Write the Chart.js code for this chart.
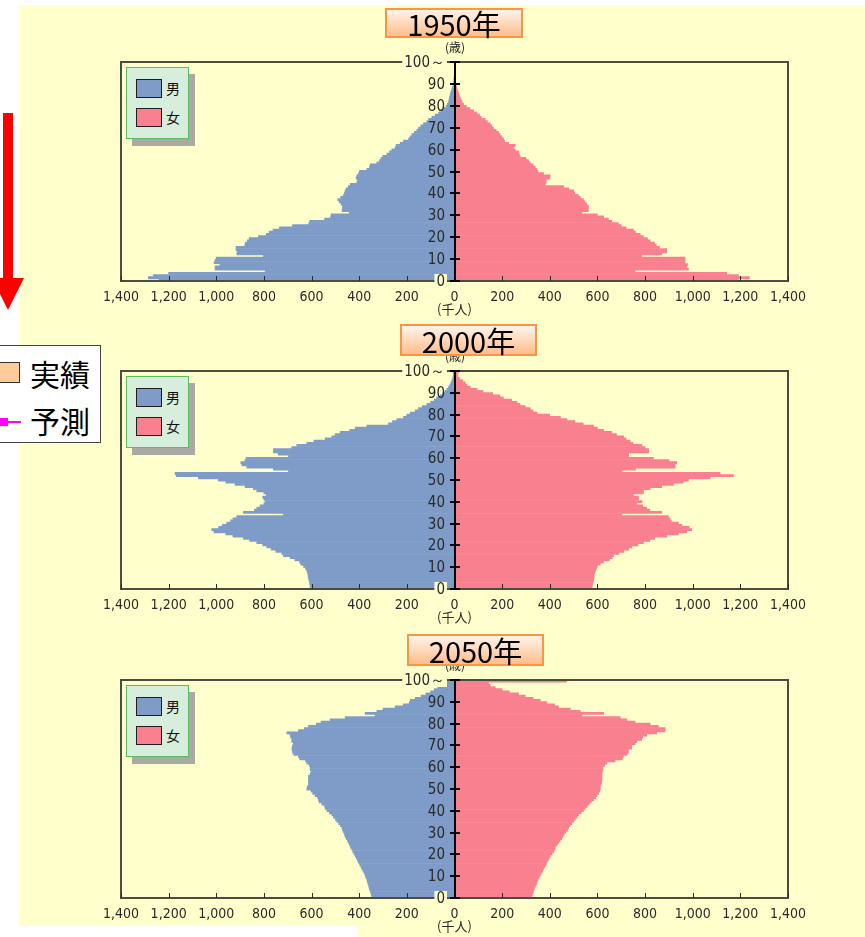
<!DOCTYPE html>
<html lang="ja">
<head>
<meta charset="utf-8">
<title>人口ピラミッド 1950年・2000年・2050年</title>
<script src="https://cdn.jsdelivr.net/npm/chart.js@4.4.1/dist/chart.umd.min.js"></script>
<style>
  html, body { margin: 0; padding: 0; background: #fff; }
  body { position: relative; width: 865px; height: 937px; overflow: hidden;
         font-family: "DejaVu Sans Condensed", "DejaVu Sans", sans-serif; }
  #paper { position: absolute; left: 19px; top: 5px; width: 846px; height: 932px; background: #FFFFCC; }
  #paperCut { position: absolute; left: 19px; top: 926px; width: 338px; height: 11px; background: #fff; }
  canvas.pyr { position: absolute; left: 19px; }
  .year { position: absolute; box-sizing: border-box; border: 2px solid #F79646;
          background: linear-gradient(to bottom, #FFF3EA 0%, #FFD6B6 55%, #FFBD8B 100%);
          font-family: "Noto Sans CJK JP", sans-serif; font-size: 29px; color: #000;
          display: flex; align-items: center; justify-content: center; z-index: 5; }
  .unit { position: absolute; width: 40px; margin-left: -20px; text-align: center;
          font-family: "Noto Sans CJK JP", sans-serif; font-size: 12px; line-height: 14px; color: #222; }
  .sexShadow { position: absolute; width: 63px; height: 72px; background: #A9AAA1; }
  .sexBox { position: absolute; box-sizing: border-box; width: 63px; height: 72px;
            background: #D8EEDD; border: 1px solid #5DBB63; }
  .sw { position: absolute; box-sizing: border-box; width: 26px; height: 19px; border: 1px solid #1e1e1e; }
  .swTxt { position: absolute; font-family: "Noto Sans CJK JP", sans-serif; font-size: 14px;
           line-height: 16px; color: #111; }
  #kind { position: absolute; left: -2px; top: 345px; width: 103px; height: 98px; box-sizing: border-box;
          background: #fff; border: 1px solid #444; z-index: 6; }
  #kindSw { position: absolute; left: -2px; top: 362px; width: 22px; height: 21px; box-sizing: border-box;
            background: #FFCC99; border: 1px solid #333; z-index: 7; }
  #kindLine { position: absolute; left: 0; top: 421px; width: 21px; height: 2px; background: #FF00FF; z-index: 7; }
  #kindMark { position: absolute; left: 0; top: 418px; width: 8px; height: 8px; background: #FF00FF; z-index: 7; }
  .kindTxt { position: absolute; left: 30px; font-family: "Noto Sans CJK JP", sans-serif; font-size: 30px;
             line-height: 34px; color: #000; z-index: 7; }
  #arrow { position: absolute; left: 0; top: 0; z-index: 4; }
</style>
</head>
<body>
<div id="paper"></div>
<div id="paperCut"></div>
<svg id="arrow" width="30" height="320">
  <rect x="3" y="113" width="10" height="166" fill="#FF0000"/>
  <polygon points="-8,278 24,278 8,310" fill="#FF0000"/>
</svg>
<div id="kind"></div>
<div id="kindSw"></div>
<div class="kindTxt" style="top:356px">実績</div>
<div id="kindLine"></div>
<div id="kindMark"></div>
<div class="kindTxt" style="top:403px">予測</div>

<script>
// ---- categories and tick labels ----
const ages = [];
for (let a = 0; a <= 100; a++) ages.push(String(a));
const sexes = ['男', '女'];
const years = ['1950年', '2000年', '2050年'];
const ageTickValues = [0, 10, 20, 30, 40, 50, 60, 70, 80, 90, 100];
const ageTickLabels = ['0', '10', '20', '30', '40', '50', '60', '70', '80', '90', '100～'];
const valueMax = 1400;   // thousand persons
const valueStep = 200;

// ---- population by single year of age (thousand persons), age 0 .. 100+ ----
const male1950 = [
  1240, 1285, 1264, 1200, 795, 1005, 1005, 985, 1009, 1005,
  1000, 802, 914, 912, 917, 917, 880, 878, 870, 862,
  823, 790, 778, 762, 735, 680, 612, 608, 545, 520,
  518, 442, 472, 470, 470, 476, 484, 490, 478, 466,
  462, 459, 455, 446, 438, 410, 407, 413, 410, 403,
  399, 368, 357, 354, 326, 315, 309, 301, 284, 273,
  263, 249, 245, 228, 214, 193, 186, 179, 169, 158,
  151, 141, 130, 116, 109, 95, 81, 67, 56, 46,
  35, 30, 25, 23, 21, 19, 17, 14, 11, 8,
  5, 4, 3, 2, 1, 1, 0, 0, 0, 0, 0
];
const female1950 = [
  1190, 1238, 1192, 1143, 758, 982, 975, 978, 968, 968,
  968, 786, 870, 891, 891, 860, 847, 840, 821, 810,
  793, 780, 760, 751, 720, 700, 688, 660, 646, 626,
  600, 535, 562, 562, 562, 555, 548, 541, 528, 520,
  505, 500, 480, 458, 381, 385, 385, 400, 402, 374,
  350, 346, 339, 330, 318, 311, 300, 276, 272, 269,
  255, 248, 255, 227, 210, 206, 199, 192, 185, 175,
  164, 157, 150, 138, 129, 112, 105, 94, 80, 65,
  50, 38, 32, 28, 24, 20, 17, 14, 11, 9,
  7, 5, 4, 3, 2, 1, 1, 0, 0, 0, 0
];
const male2000 = [
  606, 606, 608, 609, 612, 614, 615, 617, 620, 625,
  634, 645, 650, 670, 690, 718, 725, 750, 770, 788,
  805, 830, 860, 886, 930, 960, 1010, 1019, 990, 975,
  956, 940, 930, 914, 718, 886, 840, 830, 816, 800,
  795, 800, 805, 790, 800, 830, 844, 879, 921, 960,
  991, 1075, 1168, 1173, 697, 760, 872, 892, 897, 880,
  875, 697, 740, 760, 760, 683, 662, 620, 590, 543,
  515, 501, 480, 440, 417, 368, 277, 260, 242, 214,
  200, 186, 165, 151, 135, 116, 100, 85, 75, 60,
  50, 40, 32, 25, 20, 15, 11, 8, 6, 4, 6
];
const female2000 = [
  577, 578, 580, 583, 584, 586, 586, 589, 592, 596,
  600, 612, 625, 650, 662, 668, 690, 710, 731, 744,
  770, 793, 820, 840, 891, 940, 975, 996, 985, 955,
  940, 910, 905, 898, 702, 870, 820, 807, 790, 765,
  787, 772, 772, 751, 793, 793, 821, 870, 919, 960,
  982, 1073, 1171, 1115, 702, 760, 926, 926, 933, 900,
  835, 731, 731, 815, 815, 800, 787, 749, 737, 720,
  710, 680, 660, 626, 600, 584, 540, 505, 472, 445,
  400, 346, 330, 318, 297, 275, 262, 240, 205, 190,
  160, 120, 95, 66, 52, 45, 35, 22, 15, 12, 17
];
const male2050 = [
  347, 349, 352, 355, 358, 360, 363, 366, 368, 372,
  375, 379, 384, 389, 393, 398, 403, 407, 412, 417,
  422, 427, 431, 436, 440, 445, 449, 454, 459, 462,
  466, 470, 473, 479, 486, 494, 500, 508, 515, 525,
  535, 543, 545, 557, 568, 571, 575, 585, 595, 602,
  620, 618, 613, 613, 613, 613, 613, 606, 602, 606,
  606, 610, 620, 625, 650, 655, 675, 680, 682, 682,
  680, 676, 683, 683, 688, 690, 704, 655, 630, 613,
  580, 560, 522, 459, 333, 375, 326, 300, 249, 215,
  190, 186, 165, 140, 120, 100, 85, 70, 55, 40, 46
];
const female2050 = [
  325, 327, 330, 333, 336, 340, 344, 347, 350, 355,
  360, 365, 370, 374, 379, 385, 388, 393, 398, 402,
  410, 416, 421, 423, 430, 437, 444, 450, 455, 460,
  468, 475, 479, 485, 492, 500, 507, 515, 521, 532,
  541, 549, 557, 566, 574, 584, 592, 598, 605, 609,
  612, 612, 615, 617, 619, 619, 619, 619, 621, 623,
  623, 630, 640, 674, 705, 709, 724, 730, 730, 744,
  744, 758, 765, 786, 790, 807, 849, 884, 884, 856,
  821, 758, 724, 696, 535, 626, 528, 486, 437, 420,
  388, 360, 330, 297, 269, 230, 200, 171, 150, 143, 470
];

// ---- look ----
const BLUE = '#7F9CC9';
const PINK = '#F9808F';
const PAPER = '#FFFFCC';
const FRAME = '#4C4C40';
const INK = '#2a2a2a';
const AGE_FONT = '15px "DejaVu Sans Condensed", "DejaVu Sans", sans-serif';

// ---- page layout of the three panels ----
const CANVAS_W = 846;
const PAD_TOP = 10, PAD_LEFT = 102, PAD_RIGHT = 77, AXIS_H = 40;
const panels = [
  { title: years[0], male: male1950, female: female1950, top: 62,  bottom: 281, box: [385, 8, 138, 30] },
  { title: years[1], male: male2000, female: female2000, top: 371, bottom: 589, box: [400, 324, 137, 32] },
  { title: years[2], male: male2050, female: female2050, top: 680, bottom: 898, box: [407, 634, 137, 32] }
];

// frame, inward value ticks, centre age axis with its ticks and labels
const pyramidAxes = {
  id: 'pyramidAxes',
  afterDatasetsDraw(chart) {
    const { ctx, chartArea: a } = chart;
    const xs = chart.scales.x;
    const ys = chart.scales.y;
    // the age axis spans the whole category scale: 0 at one end, 100 at the other
    const e0 = ys.getPixelForDecimal(0), e1 = ys.getPixelForDecimal(1);
    const yBottom = Math.max(e0, e1), yTop = Math.min(e0, e1);
    const agePixel = t => yBottom - (yBottom - yTop) * t / 100;
    const seg = (x1, y1, x2, y2) => { ctx.beginPath(); ctx.moveTo(x1, y1); ctx.lineTo(x2, y2); ctx.stroke(); };
    ctx.save();
    ctx.strokeStyle = FRAME;
    ctx.lineWidth = 2;
    ctx.strokeRect(a.left, a.top, a.right - a.left, a.bottom - a.top);

    ctx.strokeStyle = INK;
    ctx.lineWidth = 1;
    xs.ticks.forEach(t => {
      if (t.value === 0) return;
      const px = Math.round(xs.getPixelForValue(t.value)) + 0.5;
      seg(px, a.bottom, px, a.bottom - 5);
    });

    const x0 = Math.round(xs.getPixelForValue(0));
    ctx.strokeStyle = '#000';
    ctx.lineWidth = 2;
    seg(x0, a.top, x0, a.bottom);

    ctx.font = AGE_FONT;
    ctx.textAlign = 'right';
    ctx.textBaseline = 'middle';
    ageTickValues.forEach((t, k) => {
      const py = Math.round(agePixel(t));
      ctx.strokeStyle = '#000';
      ctx.lineWidth = 2;
      seg(x0 - 5, py, x0 + 5, py);
      const label = ageTickLabels[k];
      if (k === 0 || k === ageTickValues.length - 1) {
        const w = ctx.measureText(label).width;
        ctx.fillStyle = PAPER;
        ctx.fillRect(x0 - 12 - w, py - 7, w + 4, 14);
      }
      ctx.fillStyle = INK;
      ctx.fillText(label, x0 - 10, py + 1);
    });
    ctx.restore();
  }
};

function addDiv(cls, css, text) {
  const d = document.createElement('div');
  d.className = cls;
  Object.assign(d.style, css);
  if (text) d.textContent = text;
  document.body.appendChild(d);
  return d;
}

panels.forEach(p => {
  const plotH = p.bottom - p.top;
  const h = PAD_TOP + plotH + AXIS_H;
  const canvas = document.createElement('canvas');
  canvas.className = 'pyr';
  canvas.width = CANVAS_W;
  canvas.height = h;
  canvas.style.width = CANVAS_W + 'px';
  canvas.style.height = h + 'px';
  canvas.style.top = (p.top - PAD_TOP) + 'px';
  document.body.appendChild(canvas);

  new Chart(canvas, {
    type: 'bar',
    data: {
      labels: ages,
      datasets: [
        { label: sexes[0], data: p.male.map(v => -v), backgroundColor: BLUE,
          borderWidth: 0, barPercentage: 1, categoryPercentage: 1 },
        { label: sexes[1], data: p.female, backgroundColor: PINK,
          borderWidth: 0, barPercentage: 1, categoryPercentage: 1 }
      ]
    },
    options: {
      indexAxis: 'y',
      responsive: false,
      animation: false,
      devicePixelRatio: 1,
      layout: { padding: { top: PAD_TOP, left: PAD_LEFT, right: PAD_RIGHT, bottom: 0 } },
      plugins: { legend: { display: false }, tooltip: { enabled: false } },
      scales: {
        x: {
          type: 'linear', min: -valueMax, max: valueMax, stacked: true,
          grid: { display: false }, border: { display: false },
          ticks: {
            stepSize: valueStep, autoSkip: false, maxRotation: 0, padding: 0,
            color: INK, font: { family: '"DejaVu Sans Condensed", "DejaVu Sans", sans-serif', size: 14 },
            callback: v => Math.abs(v).toLocaleString('en-US')
          },
          title: { display: true, text: '(千人)', color: INK,
                   font: { family: '"Noto Sans CJK JP", sans-serif', size: 13 },
                   padding: { top: 0, bottom: 4 } },
          afterFit: s => { s.height = AXIS_H; }
        },
        y: { type: 'category', reverse: true, offset: true, stacked: true, display: false }
      }
    },
    plugins: [pyramidAxes]
  });

  // year heading
  const [bx, by, bw, bh] = p.box;
  addDiv('year', { left: bx + 'px', top: by + 'px', width: bw + 'px', height: bh + 'px' }, p.title);
  // age unit above the centre axis
  addDiv('unit', { left: '455px', top: (p.top - 22) + 'px' }, '(歳)');
  // sex legend
  addDiv('sexShadow', { left: '132px', top: (p.top + 12) + 'px' });
  addDiv('sexBox', { left: '126px', top: (p.top + 5) + 'px' });
  addDiv('sw', { left: '136px', top: (p.top + 17) + 'px', background: BLUE });
  addDiv('swTxt', { left: '166px', top: (p.top + 18) + 'px' }, sexes[0]);
  addDiv('sw', { left: '136px', top: (p.top + 46) + 'px', background: PINK });
  addDiv('swTxt', { left: '166px', top: (p.top + 47) + 'px' }, sexes[1]);
});
</script>
</body>
</html>
